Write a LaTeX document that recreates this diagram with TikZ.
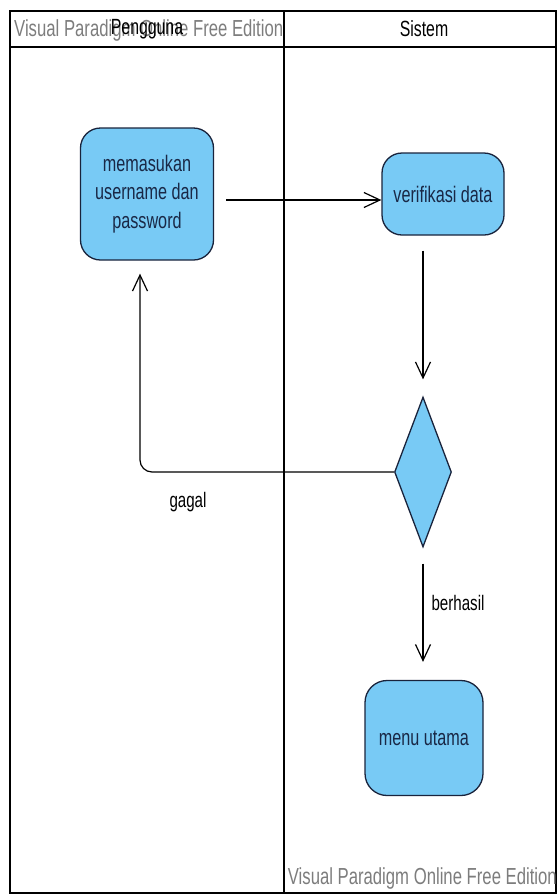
\documentclass[tikz,border=0pt]{standalone}
\usepackage{fontspec}
\setmainfont{Liberation Sans}
\newfontfamily\vpfont[FakeStretch=0.72]{Liberation Sans}
\usepackage{tikz}
\usetikzlibrary{arrows.meta,shapes.geometric,positioning}

\definecolor{actfill}{RGB}{120,202,245}
\definecolor{actline}{RGB}{25,35,60}
\definecolor{acttext}{RGB}{25,40,70}
\definecolor{wmgray}{RGB}{125,125,125}

\tikzset{
  activity/.style={rectangle,rounded corners=20pt,draw=actline,line width=1.3pt,
    fill=actfill,text=acttext,align=center,inner sep=0pt,
    font=\vpfont\fontsize{22.5}{28.5}\selectfont},
  decision/.style={diamond,draw=actline,line width=1.3pt,fill=actfill,
    inner sep=0pt,minimum width=57pt,minimum height=150pt},
  flow/.style={line width=1.2pt,-{Straight Barb[length=16pt,width=15pt,line width=1.2pt]}},
  lane/.style={line width=2.5pt},
  lanetitle/.style={font=\vpfont\fontsize{22}{24}\selectfont},
  guard/.style={font=\vpfont\fontsize{21}{24}\selectfont},
  watermark/.style={text=wmgray,inner sep=0pt,font=\vpfont\fontsize{23.2}{25}\selectfont}
}

\begin{document}
\begin{tikzpicture}[x=1pt,y=-1pt]
  \useasboundingbox (0,0) rectangle (557,895);
  % swimlanes
  \draw[lane] (10,11) rectangle (556,893);
  \draw[lane] (10,47) -- (556,47);
  \draw[lane] (284,11) -- (284,893);
  \path
  (14,30) node(wmtop) [watermark,anchor=west] {Visual Paradigm Online Free Edition}
  (557,878) node(wmbot) [watermark,anchor=east] {Visual Paradigm Online Free Edition}
  (147,29) node(pengguna) [lanetitle] {Pengguna}
  (424,29) node(sistem) [lanetitle] {Sistem};
  % aktivitas
  \path
  (147,194) node(user) [activity,minimum width=133pt,minimum height=132pt] {memasukan\\username dan\\password}
  (443,194) node(verif) [activity,minimum width=122pt,minimum height=82pt] {verifikasi data}
  (423,472) node(dec) [decision] {}
  (424,738) node(menu) [activity,rounded corners=22pt,minimum width=118pt,minimum height=115pt] {menu utama};
  \draw
  ([yshift=-6pt]user.east) edge[flow,shorten <=12pt] ([yshift=-6pt]verif.west)
  (verif.south -| dec.north) edge[flow,shorten <=15pt,shorten >=17pt] (dec.north)
  (dec.south) edge[flow,shorten <=16pt,shorten >=18pt] (menu.north -| dec.south);
  \draw[flow,rounded corners=12pt,shorten >=13pt] (dec.west) -| ([xshift=-7pt]user.south);
  \path
  (188,502) node(gagal) [guard] {gagal}
  (458,603) node(berhasil) [guard] {berhasil};
\end{tikzpicture}
\end{document}
